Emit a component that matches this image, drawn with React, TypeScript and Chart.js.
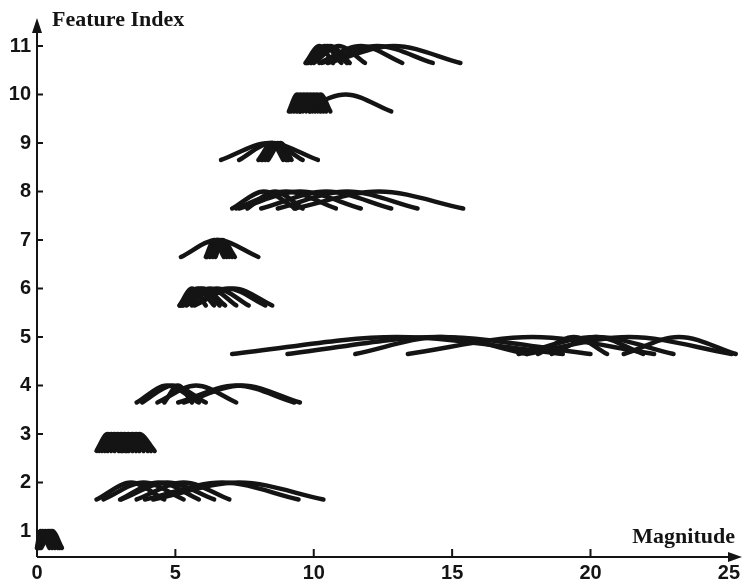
import React, { useEffect, useRef } from 'react';
import { Chart, registerables } from 'chart.js';

Chart.register(...registerables);

// Feature index of each row of arcs
const featureIndex = [1, 2, 3, 4, 5, 6, 7, 8, 9, 10, 11];

// Each arc: [start magnitude, peak magnitude, end magnitude]
const arcsF1 = [[0.0, 0.12, 0.45], [0.0, 0.2, 0.55], [0.02, 0.3, 0.65], [0.05, 0.4, 0.75], [0.1, 0.48, 0.82], [0.15, 0.55, 0.9]];
const arcsF2 = [[2.15, 3.4, 4.6], [2.4, 3.85, 5.3], [3.0, 4.4, 5.85], [3.05, 4.7, 6.4], [3.6, 5.3, 6.95], [3.9, 6.7, 9.45], [4.2, 7.3, 10.35]];
const arcsF3 = [[2.15, 2.55, 3.05], [2.25, 2.68, 3.2], [2.35, 2.8, 3.32], [2.45, 2.92, 3.45], [2.55, 3.04, 3.58], [2.68, 3.16, 3.7], [2.8, 3.3, 3.85], [2.95, 3.45, 4.0], [3.1, 3.58, 4.12], [3.25, 3.7, 4.25]];
const arcsF4 = [[3.6, 4.7, 5.85], [3.8, 4.9, 6.1], [4.35, 5.75, 7.2], [4.6, 5.1, 5.6], [5.1, 7.2, 9.3], [5.3, 7.4, 9.5]];
const arcsF5 = [[7.05, 13.0, 19.0], [9.05, 14.5, 20.0], [11.5, 14.6, 17.7], [13.4, 17.9, 22.3], [17.4, 20.2, 23.0], [17.7, 21.4, 25.1], [18.1, 19.4, 20.6], [18.6, 20.2, 21.9], [21.2, 23.2, 25.25]];
const arcsF6 = [[5.15, 5.6, 6.1], [5.15, 5.8, 6.4], [5.2, 5.9, 6.6], [5.25, 6.0, 6.8], [5.3, 6.25, 7.2], [5.4, 6.5, 7.65], [5.6, 6.9, 8.25], [5.7, 7.1, 8.5]];
const arcsF7 = [[5.2, 6.5, 8.0], [6.1, 6.4, 6.75], [6.15, 6.5, 6.85], [6.25, 6.55, 6.95], [6.35, 6.62, 7.05], [6.45, 6.7, 7.15]];
const arcsF8 = [[7.05, 8.2, 9.35], [7.2, 9.0, 10.8], [7.3, 9.5, 11.7], [7.6, 8.6, 9.6], [8.1, 10.45, 12.8], [8.7, 11.2, 13.75], [9.3, 12.35, 15.4]];
const arcsF9 = [[6.65, 8.4, 10.15], [7.3, 8.45, 9.6], [8.0, 8.5, 9.05], [8.1, 8.5, 8.9], [8.15, 8.58, 9.0], [8.25, 8.7, 9.1], [8.35, 8.8, 9.2]];
const arcsF10 = [[9.1, 9.4, 9.85], [9.18, 9.52, 9.95], [9.28, 9.64, 10.05], [9.38, 9.76, 10.15], [9.5, 9.88, 10.25], [9.6, 10.0, 10.35], [9.72, 10.12, 10.45], [9.85, 10.25, 10.6], [9.5, 11.15, 12.8]];
const arcsF11 = [[9.7, 10.2, 10.7], [9.75, 10.4, 11.0], [9.8, 10.5, 11.2], [9.9, 10.6, 11.3], [10.0, 10.9, 11.85], [10.2, 11.7, 13.2], [10.3, 12.3, 14.3], [10.5, 12.9, 15.3]];

const allArcs = [arcsF1, arcsF2, arcsF3, arcsF4, arcsF5, arcsF6, arcsF7, arcsF8, arcsF9, arcsF10, arcsF11];

const xTickValues = [0, 5, 10, 15, 20, 25];
const yTickValues = [1, 2, 3, 4, 5, 6, 7, 8, 9, 10, 11];
const ARC_DROP = 0.35; // arc ends sit this far below the feature level

const INK = '#141414';

export default function App() {
  const ref = useRef<HTMLCanvasElement>(null);

  useEffect(() => {
    document.body.style.margin = '0';
    if (!ref.current) return;

    const datasets: any[] = [];
    allArcs.forEach((arcs, i) => {
      const level = featureIndex[i];
      arcs.forEach(([a, m, b]) => {
        datasets.push({
          data: [
            { x: a, y: level - ARC_DROP },
            { x: m, y: level },
            { x: b, y: level - ARC_DROP },
          ],
          borderColor: INK,
          borderWidth: 4.5,
          pointRadius: 0,
          cubicInterpolationMode: 'monotone',
          fill: false,
          clip: false,
          borderCapStyle: 'round',
          borderJoinStyle: 'round',
        });
      });
    });

    const axesPlugin = {
      id: 'arrowAxes',
      afterDatasetsDraw(chart: any) {
        const { ctx, chartArea, scales } = chart;
        const xs = scales.x;
        const ys = scales.y;
        const left = chartArea.left;
        const bottom = chartArea.bottom;
        ctx.save();
        ctx.strokeStyle = INK;
        ctx.fillStyle = INK;
        ctx.lineWidth = 2;
        // y axis
        ctx.beginPath();
        ctx.moveTo(left, bottom);
        ctx.lineTo(left, chartArea.top + 8);
        ctx.stroke();
        ctx.beginPath();
        ctx.moveTo(left, chartArea.top - 2);
        ctx.lineTo(left - 5, chartArea.top + 13);
        ctx.lineTo(left + 5, chartArea.top + 13);
        ctx.closePath();
        ctx.fill();
        // x axis
        const xEnd = chart.width - 2;
        ctx.beginPath();
        ctx.moveTo(left, bottom);
        ctx.lineTo(xEnd - 8, bottom);
        ctx.stroke();
        ctx.beginPath();
        ctx.moveTo(xEnd, bottom);
        ctx.lineTo(xEnd - 14, bottom - 5);
        ctx.lineTo(xEnd - 14, bottom + 5);
        ctx.closePath();
        ctx.fill();
        // inward tick marks
        yTickValues.forEach((v) => {
          const py = ys.getPixelForValue(v);
          ctx.beginPath();
          ctx.moveTo(left, py);
          ctx.lineTo(left + 6, py);
          ctx.stroke();
        });
        xTickValues.forEach((v) => {
          if (v === 0 || v === 25) return;
          const px = xs.getPixelForValue(v);
          ctx.beginPath();
          ctx.moveTo(px, bottom);
          ctx.lineTo(px, bottom - 8);
          ctx.stroke();
        });
        // axis titles
        ctx.font = 'bold 22px "Liberation Serif", "Times New Roman", serif';
        ctx.textBaseline = 'middle';
        ctx.textAlign = 'left';
        ctx.fillText('Feature Index', left + 15, 20);
        ctx.textAlign = 'right';
        ctx.fillText('Magnitude', 735, bottom - 20);
        ctx.restore();
      },
    };

    const tickFont = { family: '"Liberation Sans", Arial, sans-serif', size: 20, weight: 'bold' as const };

    const chart = new Chart(ref.current, {
      type: 'line',
      data: { datasets },
      options: {
        animation: false,
        responsive: true,
        maintainAspectRatio: false,
        layout: { padding: { top: 20, right: 11, left: 0, bottom: 0 } },
        plugins: { legend: { display: false }, tooltip: { enabled: false } },
        scales: {
          x: {
            type: 'linear',
            min: 0,
            max: 25,
            afterBuildTicks: (s: any) => {
              s.ticks = xTickValues.map((v) => ({ value: v }));
            },
            afterFit: (s: any) => {
              s.height = 30;
            },
            ticks: { font: tickFont, color: INK, padding: 4, maxRotation: 0 },
            grid: { display: false, drawTicks: false },
            border: { display: false },
          },
          y: {
            type: 'linear',
            min: 0.464,
            max: 11.536,
            afterBuildTicks: (s: any) => {
              s.ticks = yTickValues.map((v) => ({ value: v }));
            },
            afterFit: (s: any) => {
              s.width = 37;
            },
            ticks: { font: tickFont, color: INK, padding: 6 },
            grid: { display: false, drawTicks: false },
            border: { display: false },
          },
        },
      },
      plugins: [axesPlugin],
    });

    return () => chart.destroy();
  }, []);

  return (
    <div style={{ width: 744, height: 587, position: 'relative', background: '#fff' }}>
      <canvas ref={ref} />
    </div>
  );
}
